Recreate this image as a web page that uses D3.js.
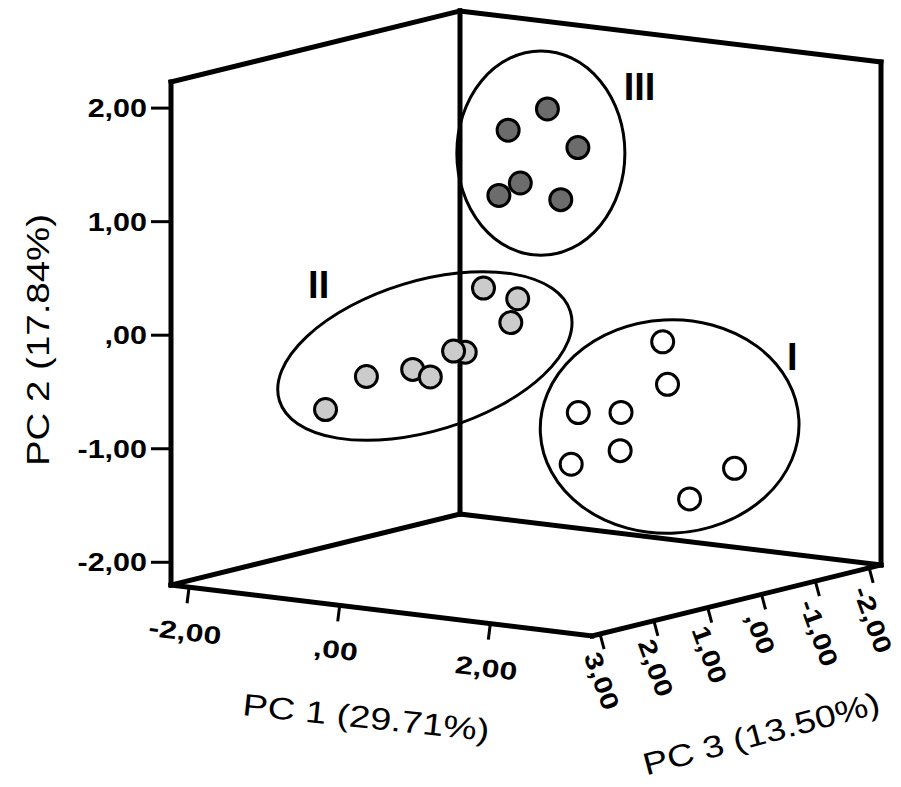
<!DOCTYPE html>
<html>
<head>
<meta charset="utf-8">
<script src="https://cdn.jsdelivr.net/npm/d3@7/dist/d3.min.js"></script>
<style>
  body { margin: 0; background: #fff; }
  svg { display: block; font-family: "Liberation Sans", Arial, sans-serif; }
</style>
</head>
<body>
<svg id="chart" width="901" height="787"></svg>
<script>
// PCA scores: [PC1, PC2, PC3]
const groupI = [
  [1.18, -0.29, -1.2], [1.53, -0.59, -0.8], [1.06, -0.76, 0.2], [1.27, -0.80, -0.3],
  [1.18, -1.17, 0.5], [1.33, -1.12, -0.2], [1.92, -1.38, -1.5], [1.68, -1.61, -1.0]
];
const groupII = [
  [0.23, 0.34, 0.8], [0.47, 0.23, 0.5], [0.45, 0.03, 0.6], [0.13, -0.21, 1.0],
  [0.19, -0.16, 1.3], [-0.21, -0.33, 1.5], [-0.19, -0.43, 1.2], [-0.61, -0.39, 1.8],
  [-1.01, -0.69, 2.0]
];
const groupIII = [
  [0.15, 1.76, -0.5], [0.20, 1.67, 0.3], [0.34, 1.40, -0.8],
  [0.29, 1.20, 0.2], [0.22, 1.12, 0.5], [0.47, 1.01, -0.3]
];

const pc1Ticks = [-2, 0, 2];
const pc2Ticks = [-2, -1, 0, 1, 2];
const pc3Ticks = [3, 2, 1, 0, -1, -2];

const pc1Title = "PC 1 (29.71%)";
const pc2Title = "PC 2 (17.84%)";
const pc3Title = "PC 3 (13.50%)";

// cluster outlines: label, centre [PC1, PC2], radii in PC units, tilt, label position [PC1, PC2]
const clusterNames = ["I", "II", "III"];
const clusterCentres = [[2.13, -0.82], [-1.12, -0.46], [0.42, 1.45]];
const clusterRadii = [[1.14, 0.94], [1.34, 0.66], [0.74, 0.90]];
const clusterTilt = [-3, -17, 0];
const clusterLabelAt = [[3.76, -0.07], [-2.53, 0.06], [1.73, 2.14]];

// ---------- layout ----------
const svg = d3.select("#chart");
const leftBottom = [171, 585], frontBottom = [592, 636], rightBottom = [881, 565];
const boxHeight = 503;

const s1 = d3.scaleLinear().domain([-2.24, 3.35]).range([0, 1]);
const s2 = d3.scaleLinear().domain([-2.2, 2.23]).range([0, -boxHeight]);
const s3 = d3.scaleLinear().domain([3.15, -2.22]).range([0, 1]);

const proj = (p1, p2, p3) => {
  let a = s1(p1), c = s3(p3);
  return [
    leftBottom[0] + a * (frontBottom[0] - leftBottom[0]) + c * (rightBottom[0] - frontBottom[0]),
    leftBottom[1] + a * (frontBottom[1] - leftBottom[1]) + c * (rightBottom[1] - frontBottom[1]) + s2(p2)
  ];
};
const pxPerUnit = Math.abs(s2(1) - s2(0));

const [x0, x1] = s1.domain(), [y0, y1] = s2.domain(), [z1, z0] = s3.domain();
const fmt = v => d3.format(".2f")(v).replace("\u2212", "-").replace(".", ",").replace(/^0,/, ",");

// ---------- box ----------
const edges = [
  [[x0, y0, z1], [x0, y1, z1]], [[x0, y1, z1], [x0, y1, z0]], [[x0, y1, z0], [x0, y0, z0]],
  [[x0, y0, z0], [x0, y0, z1]], [[x0, y0, z0], [x1, y0, z0]], [[x1, y0, z0], [x1, y1, z0]],
  [[x1, y1, z0], [x0, y1, z0]], [[x0, y0, z1], [x1, y0, z1]], [[x1, y0, z1], [x1, y0, z0]]
];
svg.append("g").selectAll("line").data(edges).enter().append("line")
  .attr("x1", d => proj(...d[0])[0]).attr("y1", d => proj(...d[0])[1])
  .attr("x2", d => proj(...d[1])[0]).attr("y2", d => proj(...d[1])[1])
  .attr("stroke", "#000").attr("stroke-width", 5).attr("stroke-linecap", "square");

// PC2 ticks on the left edge
let g2 = svg.append("g");
g2.selectAll("line").data(pc2Ticks).enter().append("line")
  .attr("x1", d => proj(x0, d, z1)[0] - 20).attr("x2", d => proj(x0, d, z1)[0])
  .attr("y1", d => proj(x0, d, z1)[1]).attr("y2", d => proj(x0, d, z1)[1])
  .attr("stroke", "#000").attr("stroke-width", 3);
g2.selectAll("text").data(pc2Ticks).enter().append("text")
  .attr("transform", d => {
    let p = proj(x0, d, z1);
    return `translate(${p[0] - 24},${p[1]}) scale(1.22,1)`;
  })
  .attr("dy", "0.36em").attr("text-anchor", "end")
  .attr("font-size", 25).attr("font-weight", "bold")
  .text(fmt);

// PC1 ticks on the front floor edge
let g1 = svg.append("g");
g1.selectAll("line").data(pc1Ticks).enter().append("line")
  .attr("x1", d => proj(d, y0, z1)[0]).attr("y1", d => proj(d, y0, z1)[1])
  .attr("x2", d => proj(d, y0, z1)[0] - 2).attr("y2", d => proj(d, y0, z1)[1] + 16)
  .attr("stroke", "#000").attr("stroke-width", 3);
g1.selectAll("text").data(pc1Ticks).enter().append("text")
  .attr("transform", d => {
    let p = proj(d, y0, z1);
    return `translate(${p[0] - 4},${p[1] + 44}) rotate(7) scale(1.28,1)`;
  })
  .attr("dy", "0.36em").attr("text-anchor", "middle")
  .attr("font-size", 25).attr("font-weight", "bold")
  .text(fmt);

// PC3 ticks on the right floor edge
let g3 = svg.append("g");
g3.selectAll("line").data(pc3Ticks).enter().append("line")
  .attr("x1", d => proj(x1, y0, d)[0]).attr("y1", d => proj(x1, y0, d)[1])
  .attr("x2", d => proj(x1, y0, d)[0] + 4).attr("y2", d => proj(x1, y0, d)[1] + 15)
  .attr("stroke", "#000").attr("stroke-width", 3);
g3.selectAll("text").data(pc3Ticks).enter().append("text")
  .attr("transform", d => {
    let p = proj(x1, y0, d);
    return `translate(${p[0] - 8},${p[1] + 19}) rotate(70) scale(1.22,1)`;
  })
  .attr("dy", "0.36em").attr("text-anchor", "start")
  .attr("font-size", 25).attr("font-weight", "bold")
  .text(fmt);

// axis titles
svg.append("text").attr("transform", "translate(49,340) rotate(-90) scale(1.24,1)")
  .attr("text-anchor", "middle").attr("font-size", 31).text(pc2Title);
svg.append("text").attr("transform", "translate(365,728) rotate(6) scale(1.22,1)")
  .attr("text-anchor", "middle").attr("font-size", 31).text(pc1Title);
svg.append("text").attr("transform", "translate(764,744) rotate(-15) scale(1.2,1)")
  .attr("text-anchor", "middle").attr("font-size", 31).text(pc3Title);

// ---------- cluster outlines ----------
let gc = svg.append("g");
gc.selectAll("ellipse").data(clusterNames).enter().append("ellipse")
  .attr("transform", (d, i) => {
    let p = proj(clusterCentres[i][0], clusterCentres[i][1], 0);
    return `translate(${p[0]},${p[1]}) rotate(${clusterTilt[i]})`;
  })
  .attr("rx", (d, i) => clusterRadii[i][0] * pxPerUnit)
  .attr("ry", (d, i) => clusterRadii[i][1] * pxPerUnit)
  .attr("fill", "none").attr("stroke", "#000").attr("stroke-width", 3);
gc.selectAll("text").data(clusterNames).enter().append("text")
  .attr("x", (d, i) => proj(clusterLabelAt[i][0], clusterLabelAt[i][1], 0)[0])
  .attr("y", (d, i) => proj(clusterLabelAt[i][0], clusterLabelAt[i][1], 0)[1])
  .attr("dy", "0.36em").attr("text-anchor", "middle")
  .attr("font-size", 38).attr("font-weight", "bold")
  .text(d => d);

// ---------- points ----------
const groups = [
  { pts: groupI, fill: "#ffffff" },
  { pts: groupII, fill: "#cbcbcb" },
  { pts: groupIII, fill: "#6c6c6c" }
];
groups.forEach(gr => {
  svg.append("g").selectAll("circle").data(gr.pts).enter().append("circle")
    .attr("cx", d => proj(d[0], d[1], d[2])[0])
    .attr("cy", d => proj(d[0], d[1], d[2])[1])
    .attr("r", 11)
    .attr("fill", gr.fill).attr("stroke", "#000").attr("stroke-width", 3);
});
</script>
</body>
</html>
